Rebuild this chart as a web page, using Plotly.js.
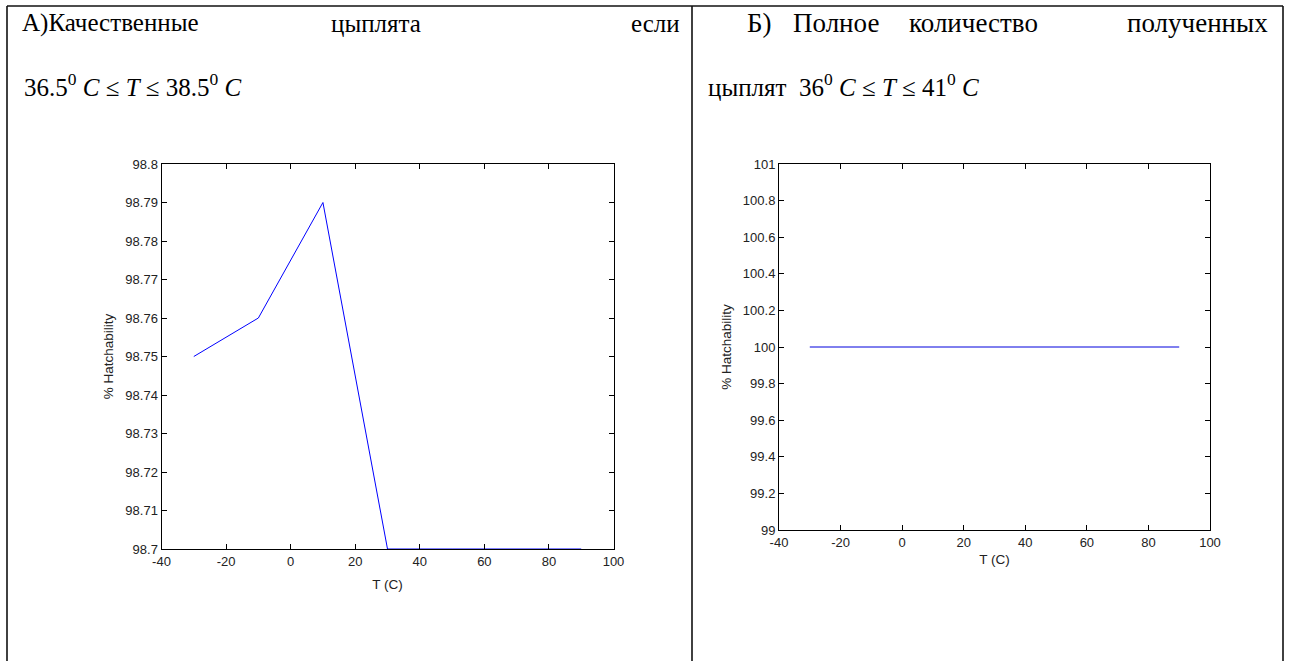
<!DOCTYPE html>
<html>
<head>
<meta charset="utf-8">
<script src="https://cdn.plot.ly/plotly-3.0.1.min.js"></script>
<style>
html,body{margin:0;padding:0;background:#fff;}
#chart{width:1290px;height:661px;}
</style>
</head>
<body>
<div id="chart"></div>
<script>
// ---- data ----
const tempA = [-30, -10, 10, 30, 50, 70, 90];
const hatchA = [98.75, 98.76, 98.79, 98.70, 98.70, 98.70, 98.70];
const tempB = [-30, -10, 10, 30, 50, 70, 90];
const hatchB = [100, 100, 100, 100, 100, 100, 100];
const xTickVals = [-40, -20, 0, 20, 40, 60, 80, 100];
const xTickText = ['-40', '-20', '0', '20', '40', '60', '80', '100'];
const xTitle = 'T (C)';
const yTitle = '% Hatchability';

// ---- layout helpers (pixel -> paper) ----
const W = 1290, H = 661;
const px = v => v / W;
const py = v => 1 - v / H;

const tickFont = {family: 'Liberation Sans, Arial, sans-serif', size: 13, color: '#222'};
const titleFont = {family: 'Liberation Sans, Arial, sans-serif', size: 13.5, color: '#222'};
const serif = 'Liberation Serif, Times New Roman, serif';

function xax(d, so) {
  return {
    domain: d, range: [-40, 100], tickmode: 'array', tickvals: xTickVals, ticktext: xTickText,
    ticks: 'inside', ticklen: 5, tickcolor: '#000', tickwidth: 1,
    showline: true, linecolor: '#000', linewidth: 1, mirror: 'ticks',
    showgrid: false, zeroline: false, tickfont: tickFont,
    title: {text: xTitle, font: titleFont, standoff: so}, fixedrange: true
  };
}
function yax(d, r, dt, anchor) {
  return {
    domain: d, range: r, dtick: dt, tick0: r[0],
    ticks: 'inside', ticklen: 5, tickcolor: '#000', tickwidth: 1,
    showline: true, linecolor: '#000', linewidth: 1, mirror: 'ticks',
    showgrid: false, zeroline: false, tickfont: tickFont, anchor: anchor,
    title: {text: yTitle, font: titleFont, standoff: 8}, fixedrange: true
  };
}

const traces = [
  {x: tempA, y: hatchA, type: 'scatter', mode: 'lines', line: {color: '#0000ff', width: 1}, xaxis: 'x', yaxis: 'y', hoverinfo: 'skip'},
  {x: tempB, y: hatchB, type: 'scatter', mode: 'lines', line: {color: '#0000dd', width: 1}, xaxis: 'x2', yaxis: 'y2', hoverinfo: 'skip'}
];

const txt = (text, x, y, anchor, size) => ({
  text: text, xref: 'paper', yref: 'paper', x: px(x), y: py(y), xanchor: anchor, yanchor: 'middle',
  showarrow: false, font: {family: serif, size: size || 25, color: '#000'}
});

const lineStyle = {color: '#111', width: 1.6};
const layout = {
  width: W, height: H, margin: {l: 0, r: 0, t: 0, b: 0},
  paper_bgcolor: '#fff', plot_bgcolor: '#fff', showlegend: false,
  xaxis: Object.assign(xax([px(161.5), px(613.5)], 11), {anchor: 'y'}),
  yaxis: yax([py(549), py(164)], [98.7, 98.8], 0.01, 'x'),
  xaxis2: Object.assign(xax([px(779), px(1210)], 5), {anchor: 'y2'}),
  yaxis2: yax([py(530), py(164)], [99, 101], 0.2, 'x2'),
  shapes: [
    {type: 'line', xref: 'paper', yref: 'paper', x0: px(7), x1: px(1283), y0: py(6), y1: py(6), line: lineStyle},
    {type: 'line', xref: 'paper', yref: 'paper', x0: px(7), x1: px(7), y0: py(6), y1: 0, line: lineStyle},
    {type: 'line', xref: 'paper', yref: 'paper', x0: px(692), x1: px(692), y0: py(6), y1: 0, line: lineStyle},
    {type: 'line', xref: 'paper', yref: 'paper', x0: px(1283), x1: px(1283), y0: py(6), y1: 0, line: lineStyle}
  ],
  annotations: [
    txt('А)Качественные', 20, 23, 'left'),
    txt('цыплята', 376, 23, 'center'),
    txt('если', 682, 23, 'right'),
    txt('36.5<sup>0</sup> <i>C</i> ≤ <i>T</i> ≤ 38.5<sup>0</sup> <i>C</i>', 22, 85, 'left'),
    txt('Б)', 759, 23, 'center', 27),
    txt('Полное', 836, 23, 'center', 27),
    txt('количество', 973, 23, 'center', 27),
    txt('полученных', 1270, 23, 'right', 27),
    txt('цыплят  36<sup>0</sup> <i>C</i> ≤ <i>T</i> ≤ 41<sup>0</sup> <i>C</i>', 706, 85, 'left')
  ]
};

Plotly.newPlot('chart', traces, layout, {staticPlot: true, displayModeBar: false});
</script>
</body>
</html>
